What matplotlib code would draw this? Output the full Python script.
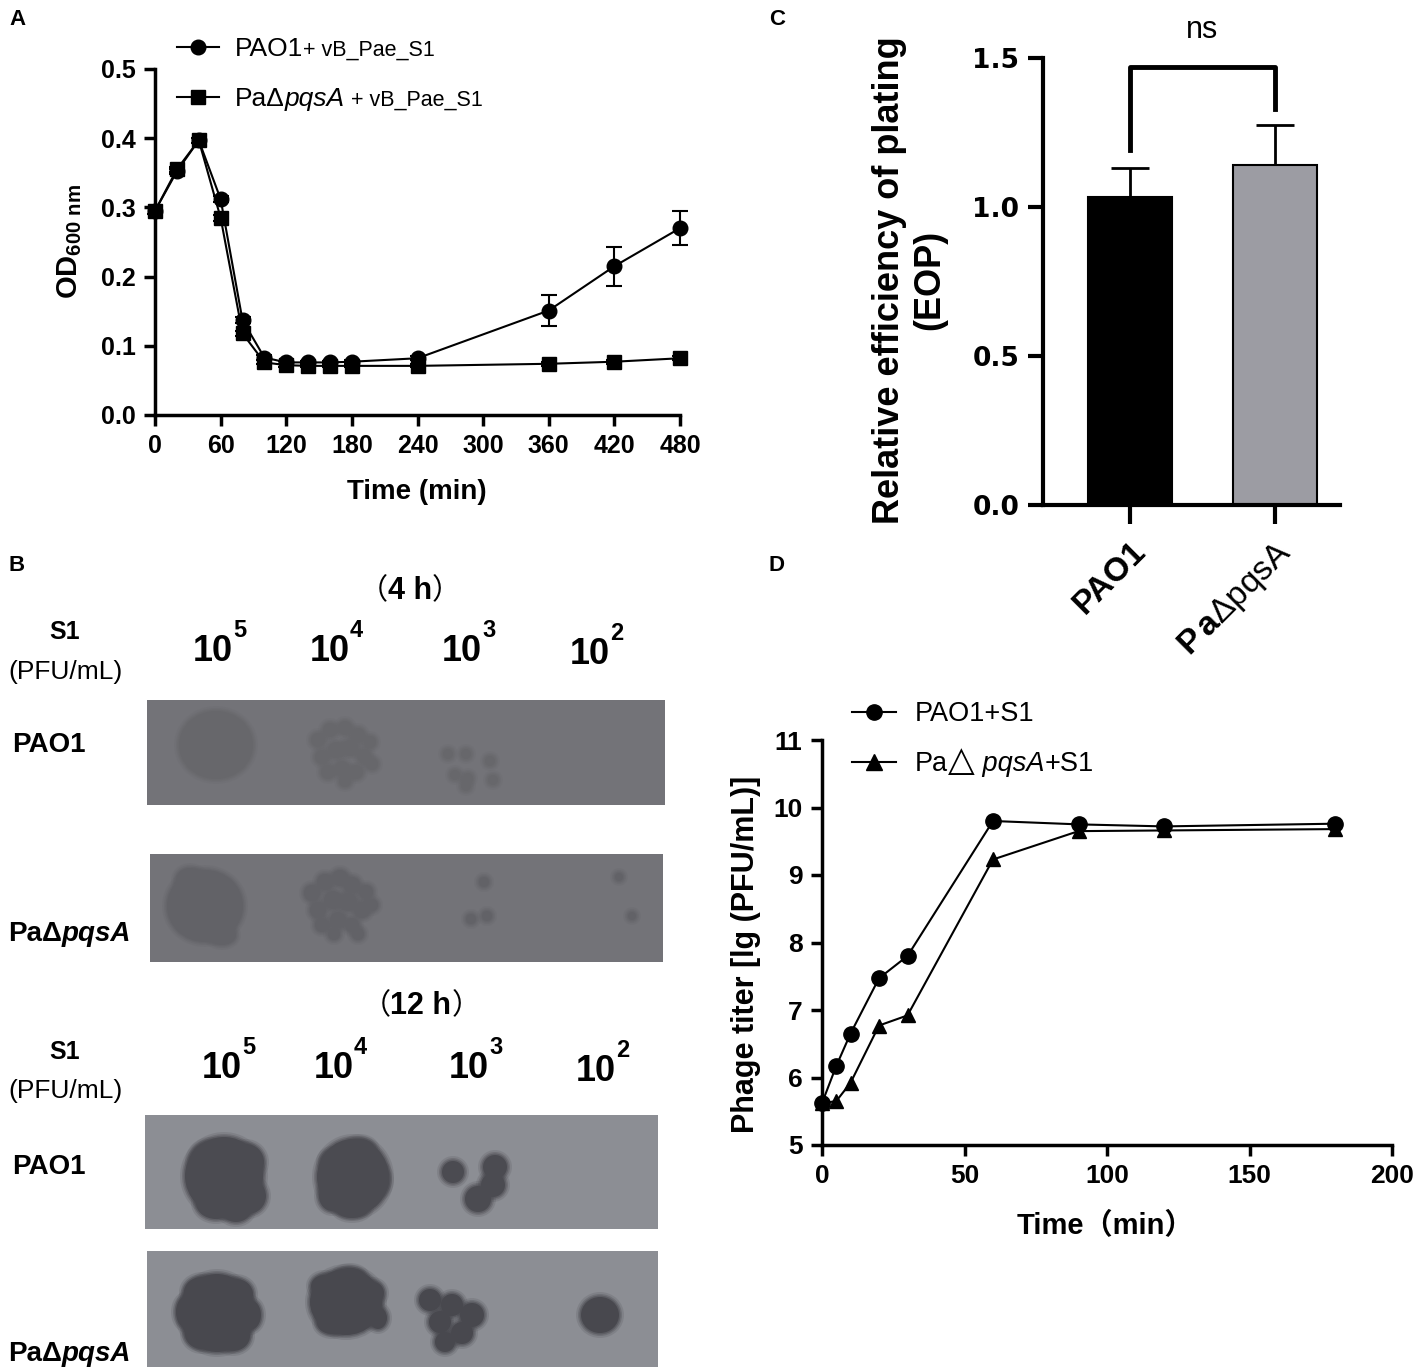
import numpy as np
import matplotlib
matplotlib.use("Agg")
import matplotlib.pyplot as plt
from matplotlib.patches import Rectangle, Ellipse

plt.rcParams['mathtext.fontset'] = 'custom'
plt.rcParams['mathtext.rm'] = 'Liberation Sans'
plt.rcParams['mathtext.it'] = 'Liberation Sans:italic'
plt.rcParams['mathtext.bf'] = 'Liberation Sans:bold'

W, H = 1417, 1367
FN = ['Liberation Sans', 'DejaVu Sans']
FS = ['Liberation Sans', 'DejaVu Sans']
FC = ['Liberation Sans', 'Noto Sans CJK SC']

# ---- panel A: OD600 over time
a_time = [0, 20, 40, 60, 80, 100, 120, 140, 160, 180, 240, 360, 420, 480]
a_pao1 = [0.295, 0.352, 0.397, 0.312, 0.137, 0.083, 0.076, 0.076, 0.076, 0.077, 0.082, 0.151, 0.215, 0.270]
a_pao1_err = [0.004, 0.004, 0.004, 0.004, 0.004, 0.003, 0.002, 0.002, 0.002, 0.002, 0.003, 0.023, 0.028, 0.025]
a_pqsa = [0.295, 0.355, 0.397, 0.285, 0.118, 0.076, 0.072, 0.071, 0.071, 0.071, 0.071, 0.074, 0.077, 0.082]
a_pqsa_err = [0.004, 0.004, 0.004, 0.004, 0.004, 0.003, 0.002, 0.002, 0.002, 0.002, 0.002, 0.003, 0.003, 0.003]
a_xticks = [0, 60, 120, 180, 240, 300, 360, 420, 480]
a_yticks = [0.0, 0.1, 0.2, 0.3, 0.4, 0.5]

# ---- panel C: EOP bars
c_groups = ['PAO1', r'$\mathbf{P\,a}$ΔpqsA']
c_vals = [1.035, 1.14]
c_err = [0.095, 0.135]
c_yticks = [0.0, 0.5, 1.0, 1.5]

# ---- panel D: phage titer
d_time = [0, 5, 10, 20, 30, 60, 90, 120, 180]
d_pao1 = [5.62, 6.17, 6.65, 7.47, 7.80, 9.80, 9.75, 9.72, 9.76]
d_pqsa = [5.62, 5.65, 5.92, 6.77, 6.92, 9.23, 9.65, 9.66, 9.68]
d_xticks = [0, 50, 100, 150, 200]
d_yticks = [5, 6, 7, 8, 9, 10, 11]

# ---- panel B: spot assay plates (pixel layout of the photos)
b_doses = ['5', '4', '3', '2']
b_plates = [(147, 700, 518, 105, '#737378'), (150, 854, 513, 108, '#737378'),
            (145, 1115, 513, 114, '#8c8e94'), (147, 1251, 511, 116, '#8c8e94')]
# plaques: (x, y, rx, ry)
b_spots = [
    [(216, 745, 37, 34)] +
    [(318, 740, 7, 7), (330, 730, 7, 7), (345, 728, 7, 7), (358, 735, 7, 7), (370, 742, 6, 6),
     (322, 757, 7, 7), (336, 750, 8, 8), (350, 748, 8, 8), (364, 756, 7, 7), (328, 772, 7, 7),
     (342, 768, 7, 7), (356, 772, 7, 7), (372, 764, 6, 6), (345, 781, 6, 6)] +
    [(448, 754, 5, 5), (466, 754, 5, 5), (490, 761, 5, 5), (455, 775, 5, 5), (468, 778, 5, 5),
     (493, 780, 5, 5), (466, 786, 5, 5)],
    [(205, 906, 38, 36), (190, 880, 14, 12), (222, 935, 14, 10)] +
    [(312, 893, 8, 8), (325, 882, 8, 8), (340, 878, 8, 8), (352, 885, 8, 8), (366, 892, 7, 7),
     (318, 910, 8, 8), (333, 900, 9, 9), (348, 902, 9, 9), (362, 910, 8, 8), (372, 905, 6, 6),
     (322, 925, 7, 7), (338, 920, 8, 8), (352, 925, 7, 7), (334, 934, 6, 6), (358, 934, 6, 6)] +
    [(484, 882, 5, 5), (471, 919, 5, 5), (487, 916, 5, 5), (619, 877, 4, 4), (632, 916, 4, 4)],
    [(224, 1176, 39, 39), (210, 1162, 20, 20), (246, 1162, 18, 18), (248, 1196, 18, 18),
     (216, 1203, 20, 16), (236, 1210, 15, 12),
     (353, 1177, 36, 38), (332, 1162, 11, 11), (360, 1150, 15, 11), (376, 1180, 13, 17),
     (332, 1196, 13, 15), (352, 1208, 17, 10),
     (453, 1172, 11, 11), (495, 1167, 12, 12), (493, 1185, 12, 12), (478, 1199, 13, 13)],
    [(217, 1313, 37, 39), (202, 1292, 18, 15), (236, 1294, 17, 15), (202, 1334, 17, 15),
     (233, 1336, 17, 15), (250, 1315, 11, 15), (185, 1312, 9, 15),
     (346, 1302, 36, 33), (324, 1286, 13, 11), (350, 1277, 15, 9), (373, 1293, 11, 11),
     (378, 1318, 9, 11), (332, 1323, 15, 11),
     (430, 1300, 11, 11), (452, 1305, 11, 11), (440, 1322, 11, 11), (472, 1315, 12, 12),
     (462, 1333, 11, 11), (445, 1342, 10, 10), (600, 1315, 19, 18)],
]
b_spot_colors = ['#67676b', '#626267', '#4b4b51', '#48484e']

fig = plt.figure(figsize=(W / 100, H / 100), dpi=100)
bg = fig.add_axes([0, 0, 1, 1])
bg.set_xlim(0, W)
bg.set_ylim(H, 0)
bg.axis('off')
bg.set_zorder(5)


def rich(x, y, parts, ha='left'):
    r = fig.canvas.get_renderer()
    ts = [bg.text(0, y, s, va='baseline', ha='left', **kw) for s, kw in parts]
    ws = [t.get_window_extent(r).width for t in ts]
    x0 = x - (sum(ws) / 2 if ha == 'center' else 0)
    for t, w in zip(ts, ws):
        t.set_x(x0)
        x0 += w


# panel letters
for lab, (px, py) in zip('ABCD', [(9, 9), (9, 555), (769, 9), (769, 555)]):
    bg.text(px, py, lab, fontsize=16, fontweight='bold', family=FS, va='top')

# ================= panel A
axA = fig.add_axes([155 / W, 1 - 415 / H, 525 / W, 346 / H])
axA.patch.set_visible(False)
axA.errorbar(a_time, a_pao1, yerr=a_pao1_err, color='black', marker='o', ms=10.5, lw=1.5,
             capsize=6, elinewidth=1.5, capthick=1.5, clip_on=False, zorder=3)
axA.errorbar(a_time, a_pqsa, yerr=a_pqsa_err, color='black', marker='s', ms=10, lw=1.5,
             capsize=6, elinewidth=1.5, capthick=1.5, clip_on=False, zorder=3)
axA.set_xlim(0, 480)
axA.set_ylim(0, 0.5)
axA.set_xticks(a_xticks)
axA.set_yticks(a_yticks)
axA.set_yticklabels([f'{v:.1f}' for v in a_yticks])
for s in ['top', 'right']:
    axA.spines[s].set_visible(False)
for s in ['left', 'bottom']:
    axA.spines[s].set_linewidth(2.5)
axA.tick_params(direction='out', length=8, width=2.5, pad=6)
for t in axA.get_xticklabels() + axA.get_yticklabels():
    t.set_fontfamily(FN)
    t.set_fontweight('bold')
    t.set_fontsize(18)
bg.text(70, 242, r'OD$_{\mathbf{600\ nm}}$', rotation=90, ha='center', va='center',
        fontsize=21, fontweight='bold', family=FN)
bg.text(417, 492, 'Time (min)', ha='center', va='center', fontsize=20, fontweight='bold', family=FN)
# legend A
for yy, mk in [(47, 'o'), (97, 's')]:
    bg.plot([177, 219], [yy, yy], color='black', lw=1.5)
    bg.plot([198], [yy], marker=mk, color='black', ms=10.5)
rich(235, 56, [('PAO1', dict(fontsize=19, family=FN)), ('+ vB_Pae_S1', dict(fontsize=15.5, family=FN))])
rich(235, 106, [('PaΔ', dict(fontsize=19, family=FN)), ('pqsA', dict(fontsize=19, family=FN, style='italic')),
                (' + vB_Pae_S1', dict(fontsize=15.5, family=FN))])

# ================= panel C
axC = fig.add_axes([1043 / W, 1 - 505 / H, 297 / W, 447 / H])
axC.patch.set_visible(False)
axC.bar([0, 1], c_vals, width=0.58, color=['black', '#9c9ca3'], edgecolor='black', lw=1.5, zorder=2)
axC.errorbar([0, 1], c_vals, yerr=[[0, 0], c_err], fmt='none', ecolor='black', elinewidth=2,
             capsize=14, capthick=2, zorder=1)
axC.plot([0, 0, 1, 1], [1.19, 1.47, 1.47, 1.33], color='black', lw=3.5, clip_on=False)
axC.text(0.5, 1.545, 'ns', ha='center', va='bottom', fontsize=22, family=FS)
axC.set_xlim(-0.6, 1.448)
axC.set_ylim(0, 1.5)
axC.set_yticks(c_yticks)
axC.set_yticklabels([f'{v:.1f}' for v in c_yticks], fontsize=19, fontweight='bold', family='DejaVu Sans')
axC.set_xticks([0, 1])
axC.set_xticklabels(c_groups, rotation=45, ha='right', rotation_mode='anchor', fontsize=24, family=FS)
axC.get_xticklabels()[0].set_fontweight('bold')
for s in ['top', 'right']:
    axC.spines[s].set_visible(False)
for s in ['left', 'bottom']:
    axC.spines[s].set_linewidth(3)
axC.tick_params(axis='y', direction='out', length=11, width=3, pad=6)
axC.tick_params(axis='x', direction='out', length=14, width=3, pad=8)
bg.text(910, 280, 'Relative efficiency of plating\n(EOP)', rotation=90, ha='center', va='center',
        multialignment='center', linespacing=1.2, fontsize=26, fontweight='bold', family=FS)

# ================= panel D
axD = fig.add_axes([822 / W, 1 - 1145 / H, 570 / W, 405 / H])
axD.patch.set_visible(False)
axD.plot(d_time, d_pao1, color='black', marker='o', ms=11, lw=1.5, clip_on=False, zorder=3)
axD.plot(d_time, d_pqsa, color='black', marker='^', ms=10, lw=1.5, clip_on=False, zorder=3)
axD.set_xlim(0, 200)
axD.set_ylim(5, 11)
axD.set_xticks(d_xticks)
axD.set_yticks(d_yticks)
for s in ['top', 'right']:
    axD.spines[s].set_visible(False)
for s in ['left', 'bottom']:
    axD.spines[s].set_linewidth(2.5)
axD.tick_params(direction='out', length=8, width=2.5, pad=6)
for t in axD.get_xticklabels() + axD.get_yticklabels():
    t.set_fontfamily(FN)
    t.set_fontweight('bold')
    t.set_fontsize(19)
bg.text(746, 954, 'Phage titer [lg (PFU/mL)]', rotation=90, ha='center', va='center',
        fontsize=22, fontweight='bold', family=FS)
bg.text(1105, 1226, 'Time（min）', ha='center', va='center', fontsize=21, fontweight='bold', family=FC)
for yy, mk in [(712, 'o'), (762, '^')]:
    bg.plot([852, 896], [yy, yy], color='black', lw=1.5)
    bg.plot([874], [yy], marker=mk, color='black', ms=11)
rich(915, 721, [('PAO1+S1', dict(fontsize=19.5, family=FS))])
rich(915, 771, [('Pa', dict(fontsize=19.5, family=FS)), ('△', dict(fontsize=25, family='DejaVu Sans')),
                (' pqsA', dict(fontsize=19.5, family=FS, style='italic')), ('+S1', dict(fontsize=19.5, family=FS))])

# ================= panel B
for (x, y, w, h, c), spots, sc in zip(b_plates, b_spots, b_spot_colors):
    bg.add_patch(Rectangle((x, y), w, h, facecolor=c, edgecolor='none', zorder=1))
    for sx, sy, rx, ry in spots:
        for k, a in [(5, 0.18), (3, 0.3), (1.5, 0.45)]:
            bg.add_patch(Ellipse((sx, sy), 2 * (rx + k), 2 * (ry + k), facecolor=sc,
                                 edgecolor='none', alpha=a, zorder=2))
    for sx, sy, rx, ry in spots:
        bg.add_patch(Ellipse((sx, sy), 2 * rx, 2 * ry, facecolor=sc, edgecolor='none', zorder=3))

bold_n = dict(family=FN, fontweight='bold')
for (title, tx, ty, s1y, pfuy, tenx, teny, rowy) in [
        ('4 h', 410, 590, 632, 672, [213, 330, 462, 590], [661, 661, 661, 664], [743, 932]),
        ('12 h', 421, 1005, 1052, 1091, [222, 334, 469, 596], [1078, 1078, 1078, 1081], [1165, 1352])]:
    rich(tx, ty + 9,
         [('（', dict(family=FC, fontsize=21)), (title, dict(fontsize=22, **bold_n)),
          ('）', dict(family=FC, fontsize=21))], ha='center')
    bg.text(65, s1y, 'S1', ha='center', va='center', fontsize=18, **bold_n)
    bg.text(66, pfuy, '(PFU/mL)', ha='center', va='center', fontsize=19, family=FN)
    for xx, yy, d in zip(tenx, teny, b_doses):
        bg.text(xx, yy, '10', ha='center', va='baseline', fontsize=26, **bold_n)
        bg.text(xx + 20, yy - 24, d, ha='left', va='baseline', fontsize=17, **bold_n)
    bg.text(12, rowy[0] + 9, 'PAO1', ha='left', va='baseline', fontsize=20, **bold_n)
    rich(8, rowy[1] + 9, [('PaΔ', dict(fontsize=20, **bold_n)),
                          ('pqsA', dict(fontsize=20, style='italic', **bold_n))])

fig.savefig('out.png', dpi=100)
